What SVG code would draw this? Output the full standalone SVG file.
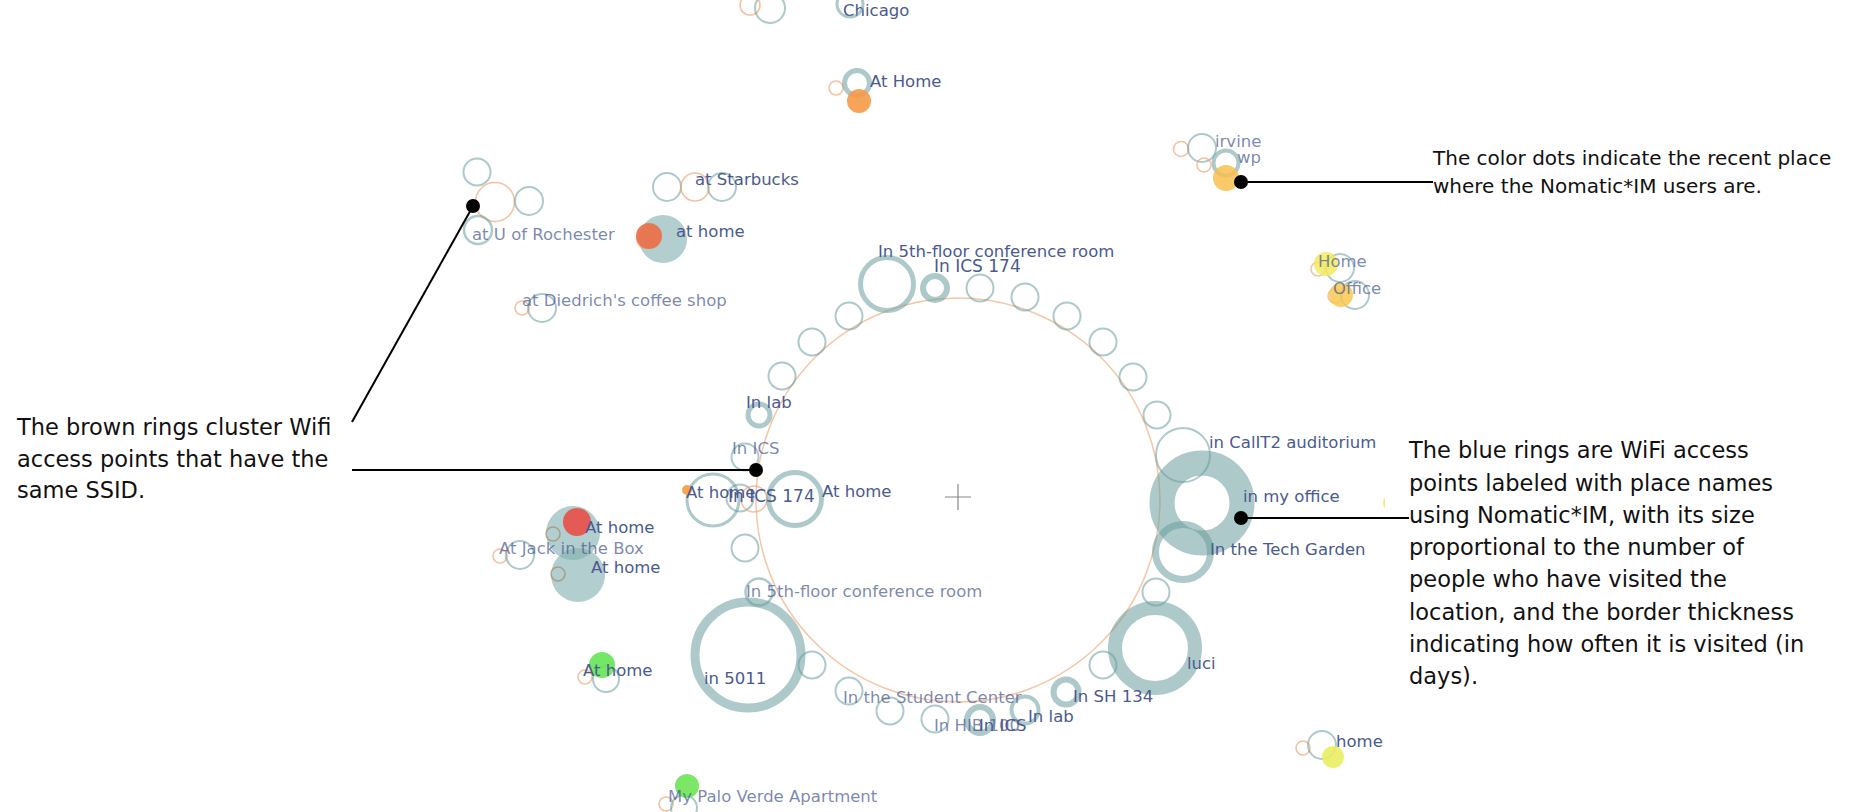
<svg xmlns="http://www.w3.org/2000/svg" width="1854" height="812" viewBox="0 0 1854 812">
<style>
.r{fill:none;stroke:#6a9d9d;stroke-opacity:.55}
.o{fill:none;stroke:#ef9a62;stroke-opacity:.6;stroke-width:1.6}
.f{fill:#82b0b0;fill-opacity:.62}
.lb{font-family:"DejaVu Sans",Verdana,sans-serif;font-size:16.5px;fill:#4a5a90}
.lt{fill-opacity:.72}
.ann{font-family:"DejaVu Sans",Verdana,sans-serif;font-size:22.5px;fill:#111}
.ld{stroke:#000;stroke-width:2;fill:none}
</style>
<rect width="1854" height="812" fill="#fff"/>

<g id="ssid-cluster">
<circle cx="958" cy="500" r="202" fill="none" stroke="#f2b994" stroke-opacity=".8" stroke-width="1.5"/>
<path d="M945 497h26M958 484v26" stroke="#888" stroke-width="1.2"/>
</g>

<g id="ring-aps" stroke-width="2">
<circle class="r" cx="745" cy="548" r="13.5"/>
<circle class="r" cx="745" cy="457" r="13.5"/>
<circle class="r" cx="759" cy="415" r="11" style="stroke-width:5"/>
<circle class="r" cx="782" cy="376" r="13.5"/>
<circle class="r" cx="812" cy="342" r="13.5"/>
<circle class="r" cx="849" cy="316" r="13.5"/>
<circle class="r" cx="887" cy="284" r="26.5" style="stroke-width:5"/>
<circle class="r" cx="935" cy="288" r="12" style="stroke-width:6"/>
<circle class="r" cx="980" cy="288" r="13.5"/>
<circle class="r" cx="1025" cy="297" r="13.5"/>
<circle class="r" cx="1067" cy="316" r="13.5"/>
<circle class="r" cx="1103" cy="342" r="13.5"/>
<circle class="r" cx="1133" cy="377" r="13.5"/>
<circle class="r" cx="1157" cy="415" r="13.5"/>
<circle class="r" cx="1183" cy="455" r="27"/>
<circle class="r" cx="1202" cy="503" r="40" style="stroke-width:25"/>
<circle class="r" cx="1183" cy="552" r="27.5" style="stroke-width:7"/>
<circle class="r" cx="1156" cy="592" r="13.5"/>
<circle class="r" cx="1155" cy="648" r="40" style="stroke-width:14"/>
<circle class="r" cx="1103" cy="665" r="13.5"/>
<circle class="r" cx="1066" cy="692" r="12.5" style="stroke-width:6"/>
<circle class="r" cx="1025" cy="710" r="13.5" style="stroke-width:4"/>
<circle class="r" cx="980" cy="720" r="13" style="stroke-width:6"/>
<circle class="r" cx="935" cy="719" r="13.5"/>
<circle class="r" cx="890" cy="711" r="13.5"/>
<circle class="r" cx="849" cy="691" r="13.5"/>
<circle class="r" cx="812" cy="665" r="13.5"/>
<circle class="r" cx="748" cy="655" r="53" style="stroke-width:9"/>
<circle class="r" cx="759" cy="592" r="13.5" style="stroke-width:2.5"/>
<circle class="r" cx="740" cy="498" r="13.5"/>
<circle class="o" cx="754" cy="499" r="13"/>
<circle class="r" cx="795" cy="499" r="26.5" style="stroke-width:5"/>
<circle class="r" cx="713" cy="500" r="26" style="stroke-width:3"/>
<circle cx="687" cy="490" r="5" fill="#f5a850"/>
</g>

<g id="chicago" stroke-width="2">
<circle class="o" cx="750" cy="5" r="10"/>
<circle class="r" cx="770" cy="8" r="15"/>
<text class="lb" x="843" y="16">Chicago</text>
<circle class="r" cx="850" cy="4" r="13" style="stroke-width:3"/>
</g>

<g id="at-home-top" stroke-width="2">
<circle class="o" cx="836" cy="88" r="7"/>
<circle class="r" cx="857" cy="83" r="12.5" style="stroke-width:5"/>
<circle cx="859" cy="101" r="12" fill="#f59a48" fill-opacity=".9"/>
<text class="lb" x="870" y="87">At Home</text>
</g>

<g id="rochester" stroke-width="2">
<circle class="r" cx="477" cy="172" r="13.5"/>
<circle class="o" cx="495" cy="202" r="19.5"/>
<circle class="r" cx="529" cy="201" r="14"/>
<circle class="r" cx="478" cy="230" r="14" style="stroke-width:2.5"/>
<text class="lb lt" x="472" y="240">at U of Rochester</text>
</g>

<g id="starbucks" stroke-width="2">
<circle class="r" cx="667" cy="187" r="14"/>
<circle class="o" cx="695" cy="187" r="14"/>
<circle class="r" cx="722" cy="187" r="14"/>
<text class="lb" x="695" y="185">at Starbucks</text>
</g>

<g id="at-home-2">
<circle class="f" cx="663" cy="239" r="24"/>
<circle class="o" cx="645" cy="240" r="8"/>
<circle cx="649" cy="236" r="13" fill="#ea7048" fill-opacity=".92"/>
<text class="lb" x="676" y="237">at home</text>
</g>

<g id="diedrich" stroke-width="2">
<circle class="o" cx="522" cy="308" r="7"/>
<circle class="r" cx="542" cy="308" r="14"/>
<text class="lb lt" x="522" y="306">at Diedrich's coffee shop</text>
</g>

<g id="irvine" stroke-width="2">
<circle class="o" cx="1181" cy="149" r="7.5"/>
<circle class="r" cx="1202" cy="148" r="14"/>
<text class="lb lt" x="1215" y="147">irvine</text>
<text class="lb lt" x="1237" y="163">wp</text>
<circle class="o" cx="1204" cy="165" r="7"/>
<circle class="r" cx="1226" cy="163" r="12.5" style="stroke-width:4"/>
<circle cx="1226" cy="178" r="13" fill="#f8c050" fill-opacity=".85"/>
</g>

<g id="home-office" stroke-width="2">
<circle class="o" cx="1318" cy="269" r="7"/>
<circle class="r" cx="1340" cy="268" r="14"/>
<circle cx="1326" cy="264" r="12" fill="#f2ea60" fill-opacity=".85"/>
<text class="lb lt" x="1318" y="267">Home</text>
<circle class="o" cx="1335" cy="296" r="7"/>
<circle class="r" cx="1355" cy="295" r="14"/>
<circle cx="1341" cy="295" r="12" fill="#f8c850" fill-opacity=".85"/>
<text class="lb lt" x="1333" y="294">Office</text>
</g>

<g id="jack-in-the-box" stroke-width="2">
<circle class="f" cx="573" cy="533" r="27"/>
<circle class="f" cx="578" cy="575" r="27"/>
<circle class="o" cx="553" cy="534" r="7" style="stroke:#a08060"/>
<circle class="o" cx="558" cy="574" r="7" style="stroke:#a08060"/>
<circle cx="577" cy="522" r="14" fill="#e8504a" fill-opacity=".92"/>
<circle class="o" cx="500" cy="556" r="7"/>
<circle class="r" cx="520" cy="555" r="14"/>
<text class="lb" x="585" y="533">At home</text>
<text class="lb lt" x="499" y="554">At Jack in the Box</text>
<text class="lb" x="591" y="573">At home</text>
</g>

<g id="at-home-green" stroke-width="2">
<circle class="o" cx="585" cy="677" r="7"/>
<circle class="r" cx="606" cy="679" r="13"/>
<circle cx="602" cy="665" r="13" fill="#66e455" fill-opacity=".9"/>
<text class="lb" x="583" y="676">At home</text>
</g>

<g id="palo-verde" stroke-width="2">
<circle class="o" cx="666" cy="804" r="7"/>
<circle class="r" cx="684" cy="808" r="13"/>
<circle cx="687" cy="786" r="12" fill="#6ee455" fill-opacity=".9"/>
<text class="lb lt" x="668" y="802">My Palo Verde Apartment</text>
</g>

<g id="home-bottom" stroke-width="2">
<circle class="o" cx="1303" cy="748" r="7"/>
<circle class="r" cx="1322" cy="745" r="14"/>
<circle cx="1333" cy="757" r="11" fill="#eaee60" fill-opacity=".9"/>
<text class="lb" x="1336" y="747">home</text>
</g>

<g id="ring-labels">
<text class="lb" x="878" y="257">In 5th-floor conference room</text>
<text class="lb" x="934" y="272" style="font-size:17px">In ICS 174</text>
<text class="lb" x="746" y="408">In lab</text>
<text class="lb lt" x="732" y="454">In ICS</text>
<text class="lb" x="686" y="498">At home</text>
<text class="lb" x="728" y="502" style="font-size:17px">In ICS 174</text>
<text class="lb" x="822" y="497">At home</text>
<text class="lb" x="1209" y="448">in CalIT2 auditorium</text>
<text class="lb" x="1243" y="502">in my office</text>
<text class="lb" x="1210" y="555">In the Tech Garden</text>
<text class="lb lt" x="746" y="597">In 5th-floor conference room</text>
<text class="lb" x="704" y="684">in 5011</text>
<text class="lb" x="1187" y="669">luci</text>
<text class="lb lt" x="843" y="703">In the Student Center</text>
<text class="lb" x="1073" y="702">In SH 134</text>
<text class="lb lt" x="934" y="731">In HIB 100</text>
<text class="lb" x="979" y="731">In ICS</text>
<text class="lb" x="1028" y="722">In lab</text>
</g>

<g id="hidden-dot">
<circle cx="1392" cy="503" r="9" fill="#f2ea60" fill-opacity=".85"/>
<rect x="1385" y="440" width="469" height="260" fill="#fff"/>
</g>

<g id="connectors">
<line class="ld" x1="473" y1="206" x2="352" y2="422"/>
<line class="ld" x1="352" y1="470" x2="756" y2="470"/>
<line class="ld" x1="1241" y1="182" x2="1433" y2="182"/>
<line class="ld" x1="1241" y1="518" x2="1409" y2="518"/>
<circle cx="473" cy="206" r="7"/>
<circle cx="756" cy="470" r="7"/>
<circle cx="1241" cy="182" r="7"/>
<circle cx="1241" cy="518" r="7"/>
</g>

<g id="note-ssid">
<text class="ann" x="17" y="435">The brown rings cluster Wifi</text>
<text class="ann" x="17" y="466.5">access points that have the</text>
<text class="ann" x="17" y="498">same SSID.</text>
</g>

<g id="note-dots">
<text class="ann" x="1433" y="165" style="font-size:20px">The color dots indicate the recent place</text>
<text class="ann" x="1433" y="193" style="font-size:20px">where the Nomatic*IM users are.</text>
</g>

<g id="note-rings">
<text class="ann" x="1409" y="458">The blue rings are WiFi access</text>
<text class="ann" x="1409" y="490.5">points labeled with place names</text>
<text class="ann" x="1409" y="522.5">using Nomatic*IM, with its size</text>
<text class="ann" x="1409" y="555">proportional to the number of</text>
<text class="ann" x="1409" y="587">people who have visited the</text>
<text class="ann" x="1409" y="619.5">location, and the border thickness</text>
<text class="ann" x="1409" y="651.5">indicating how often it is visited (in</text>
<text class="ann" x="1409" y="683.5">days).</text>
</g>
</svg>
